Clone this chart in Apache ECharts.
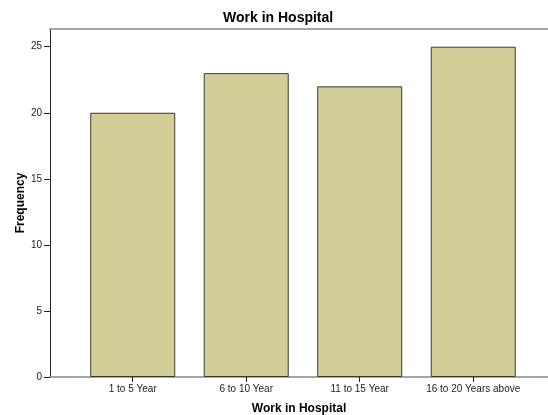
<!DOCTYPE html>
<html>
<head>
<meta charset="utf-8">
<script src="https://cdn.jsdelivr.net/npm/echarts@6/dist/echarts.min.js"></script>
<style>
  html, body { margin: 0; padding: 0; background: #fff; }
  #chart { width: 548px; height: 415px; }
</style>
</head>
<body>
<div id="chart"></div>
<script>
const categories = ['1 to 5 Year', '6 to 10 Year', '11 to 15 Year', '16 to 20 Years above']
const frequency = [20, 23, 22, 25]
const yTicks = [0, 5, 10, 15, 20, 25]

const positions = categories.map((c, i) => i)
const barData = frequency.map((v, i) => [i, v])
const font = '"Liberation Sans", Arial, sans-serif'

const chart = echarts.init(document.getElementById('chart'))
chart.setOption({
  animation: false,
  backgroundColor: '#fff',
  title: {
    text: 'Work in Hospital',
    left: 218,
    top: 6,
    textStyle: { fontFamily: font, fontSize: 14, fontWeight: 'bold', color: '#000' }
  },
  grid: { left: 50, right: 0, top: 29, bottom: 38, outerBoundsMode: 'none' },
  xAxis: [
    {
      type: 'value',
      min: -0.729,
      max: 3.659,
      name: 'Work in Hospital',
      nameLocation: 'middle',
      nameGap: 26,
      nameTextStyle: { fontFamily: font, fontSize: 12, fontWeight: 'bold', color: '#000' },
      splitLine: { show: false },
      axisLine: { onZero: false, lineStyle: { color: '#888', width: 1.5 } },
      axisTick: { customValues: positions, length: 5, lineStyle: { color: '#222' } },
      axisLabel: {
        customValues: positions,
        formatter: v => categories[Math.round(v)],
        fontFamily: font, fontSize: 10, color: '#222', margin: 7
      }
    },
    {
      type: 'value',
      position: 'top',
      min: 0, max: 1,
      axisLine: { show: true, onZero: false, lineStyle: { color: '#888', width: 1.5 } },
      axisTick: { show: false },
      axisLabel: { show: false },
      splitLine: { show: false }
    }
  ],
  yAxis: {
    type: 'value',
    min: 0,
    max: 26.34,
    name: 'Frequency',
    nameLocation: 'middle',
    nameGap: 23,
    nameMoveOverlap: false,
    nameTextStyle: { fontFamily: font, fontSize: 12, fontWeight: 'bold', color: '#000' },
    splitLine: { show: false },
    axisLine: { show: true, onZero: false, lineStyle: { color: '#222', width: 1 } },
    axisTick: { show: true, customValues: yTicks, length: 6, lineStyle: { color: '#222' } },
    axisLabel: {
      customValues: yTicks,
      fontFamily: font, fontSize: 10, color: '#222', margin: 8
    }
  },
  series: [
    {
      type: 'bar',
      xAxisIndex: 0,
      data: barData,
      barWidth: 85,
      itemStyle: { color: '#d3ce97', borderColor: '#3a3a30', borderWidth: 1 }
    }
  ]
})
</script>
</body>
</html>
